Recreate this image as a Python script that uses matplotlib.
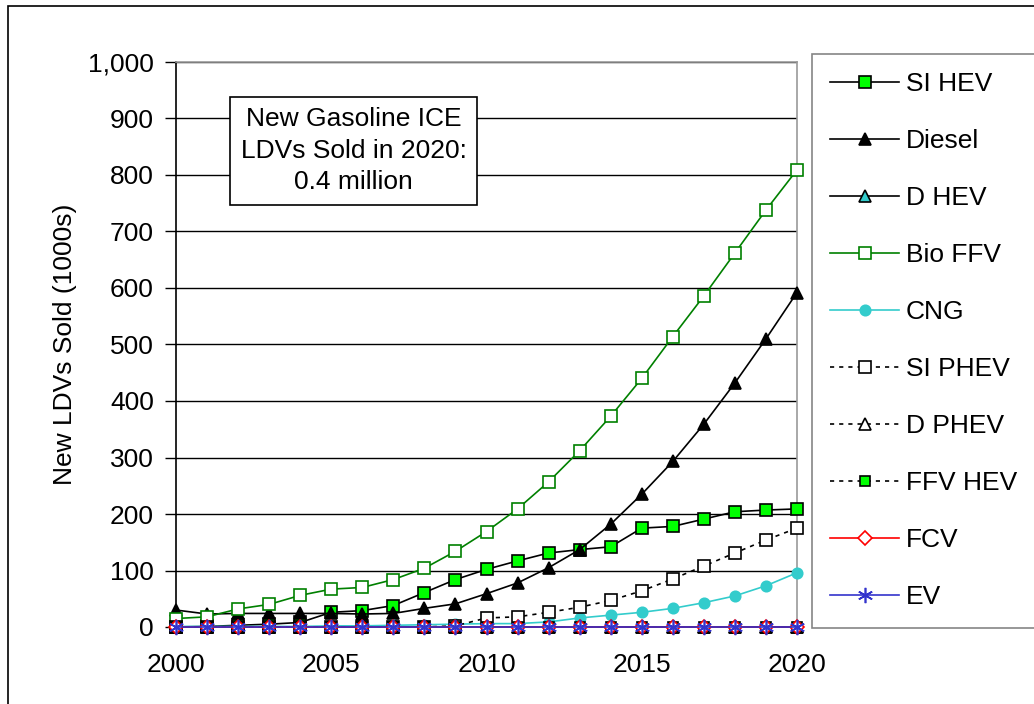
import matplotlib
matplotlib.use("Agg")
import matplotlib.pyplot as plt
from matplotlib.patches import Rectangle
from matplotlib.ticker import FuncFormatter

plt.rcParams['font.family'] = ['Liberation Sans', 'DejaVu Sans']

years = list(range(2000, 2021))
si_hev = [0, 1, 3, 5, 8, 26, 29, 38, 61, 84, 102, 117, 131, 137, 142, 175, 178, 191, 204, 207, 209]
diesel = [30, 23, 24, 24, 24, 24, 23, 24, 33, 41, 59, 78, 105, 137, 182, 235, 293, 359, 432, 510, 592]
d_hev = [0] * 21
bio_ffv = [15, 18, 32, 40, 56, 67, 70, 84, 104, 134, 169, 209, 257, 312, 373, 440, 514, 586, 662, 738, 809]
cng = [1, 1, 1, 1, 1, 2, 2, 3, 4, 5, 6, 6, 9, 16, 21, 26, 33, 43, 55, 73, 96]
si_phev = [0, 0, 0, 0, 0, 0, 0, 0, 0, 2, 16, 18, 26, 35, 47, 64, 85, 108, 131, 154, 175]
d_phev = [0] * 21
ffv_hev = [0] * 21
fcv = [0] * 21
ev = [0] * 21

x_ticks = [2000, 2005, 2010, 2015, 2020]
y_ticks = list(range(0, 1001, 100))
annotation = "New Gasoline ICE\nLDVs Sold in 2020:\n0.4 million"

FS = 19
W, H = 1034, 704
fig = plt.figure(figsize=(W / 100, H / 100), dpi=100)
ax = fig.add_axes([176 / W, 1 - 627 / H, (797 - 176) / W, (627 - 62) / H])

dash = (0, (2.5, 3))
lw = 1.2
series = [
    ("SI HEV", si_hev, dict(color='black', ls='-', marker='s', mfc='#00FF00', mec='black', ms=8)),
    ("Diesel", diesel, dict(color='black', ls='-', marker='^', mfc='black', mec='black', ms=9)),
    ("D HEV", d_hev, dict(color='black', ls='-', marker='^', mfc='#33CCCC', mec='black', ms=9)),
    ("Bio FFV", bio_ffv, dict(color='#008000', ls='-', marker='s', mfc='white', mec='#008000', ms=8)),
    ("CNG", cng, dict(color='#33CCCC', ls='-', marker='o', mfc='#33CCCC', mec='#33CCCC', ms=7.5)),
    ("SI PHEV", si_phev, dict(color='black', ls=dash, marker='s', mfc='white', mec='black', ms=8)),
    ("D PHEV", d_phev, dict(color='black', ls=dash, marker='^', mfc='white', mec='black', ms=8)),
    ("FFV HEV", ffv_hev, dict(color='black', ls=dash, marker='s', mfc='#00FF00', mec='black', ms=7)),
    ("FCV", fcv, dict(color='#FF0000', ls='-', marker='D', mfc='white', mec='#FF0000', ms=7.5)),
    ("EV", ev, dict(color='#3333CC', ls='-', marker=(6, 2, 0), mfc='#3333CC', mec='#3333CC', ms=11)),
]

handles = []
for i, (name, vals, st) in enumerate(series):
    ls = st.pop('ls')
    h, = ax.plot(years, vals, linestyle=ls, lw=lw, mew=1.2, clip_on=False,
                 zorder=3 + i * 0.1, label=name, **st)
    handles.append(h)

ax.set_xlim(2000, 2020)
ax.set_ylim(0, 1000)
ax.set_xticks(x_ticks)
ax.set_yticks(y_ticks)
ax.yaxis.set_major_formatter(FuncFormatter(lambda v, p: f"{int(v):,}"))
ax.tick_params(axis='y', direction='out', length=8, width=1, labelsize=FS, pad=8, colors='black')
ax.tick_params(axis='x', length=0, labelsize=FS, pad=19)
ax.grid(axis='y', color='black', lw=1)
ax.set_axisbelow(True)
for s in ['top', 'right', 'bottom']:
    ax.spines[s].set_color('#999999')
    ax.spines[s].set_linewidth(1.2)
ax.spines['left'].set_color('black')
ax.spines['left'].set_linewidth(1.2)
ax.set_ylabel("New LDVs Sold (1000s)", fontsize=FS, labelpad=8)

ax.text(2005.72, 843, annotation, ha='center', va='center', fontsize=FS,
        linespacing=1.4,
        bbox=dict(boxstyle='square,pad=0.4', fc='white', ec='black', lw=1.2), zorder=10)

leg = fig.legend(handles=handles, loc='upper left', bbox_to_anchor=(812 / W, 1 - 54 / H),
                 borderaxespad=0, fontsize=FS, frameon=True, fancybox=False,
                 edgecolor='#666666', handlelength=2.58, handletextpad=0.27,
                 labelspacing=1.25, borderpad=0.7)
leg.get_frame().set_linewidth(1.2)

fig.patches.append(Rectangle((8 / W, -0.05), 1.2, 1 - 6 / H + 0.05, transform=fig.transFigure,
                             fill=False, ec='black', lw=1.2))

fig.savefig("out.png", dpi=100)
